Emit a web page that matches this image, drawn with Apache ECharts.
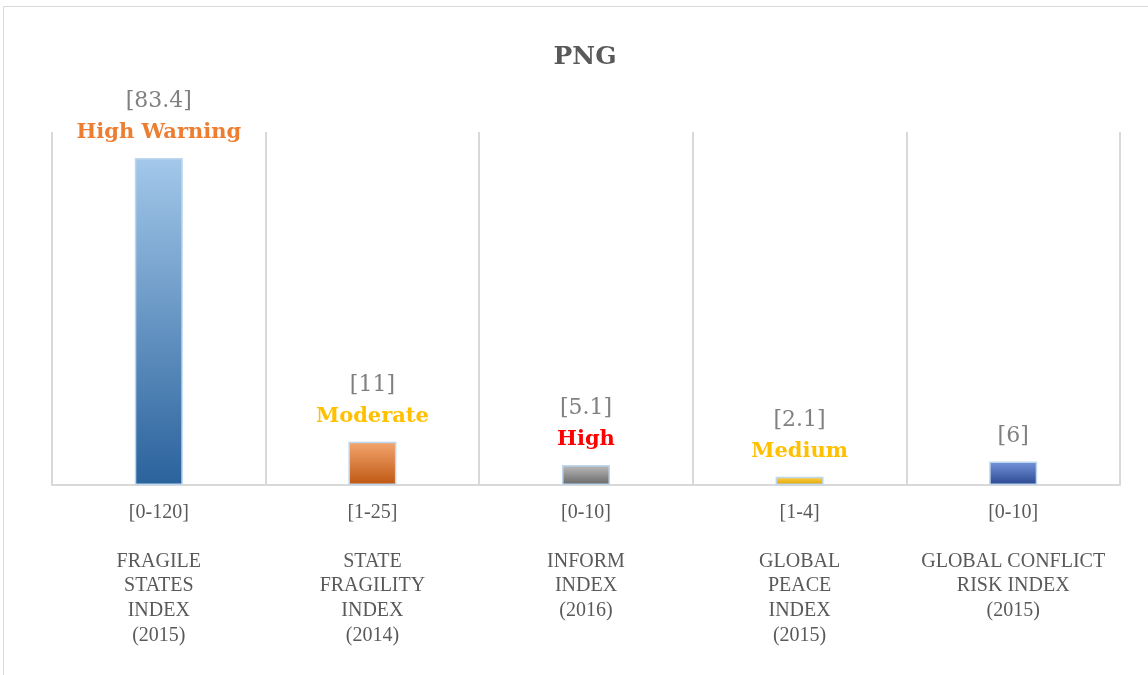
<!DOCTYPE html>
<html>
<head>
<meta charset="utf-8">
<style>
  html, body { margin: 0; padding: 0; background: #fff; }
  #chart { width: 1148px; height: 675px; }
</style>
<script src="https://cdn.jsdelivr.net/npm/echarts@6/dist/echarts.min.js"></script>
</head>
<body>
<div id="chart"></div>
<script>
// data
var indexNames = [
  "FRAGILE\nSTATES\nINDEX\n(2015)",
  "STATE\nFRAGILITY\nINDEX\n(2014)",
  "INFORM\nINDEX\n(2016)",
  "GLOBAL\nPEACE\nINDEX\n(2015)",
  "GLOBAL CONFLICT\nRISK INDEX\n(2015)"
];
var scaleRanges = ["[0-120]", "[1-25]", "[0-10]", "[1-4]", "[0-10]"];
var scores = [83.4, 11, 5.1, 2.1, 6];
var ratings = ["High Warning", "Moderate", "High", "Medium", ""];

// styling
var ratingColors = ["#ED7D31", "#FFC000", "#FF0000", "#FFC000", "#595959"];
var barGradients = [
  ["#a3c8ea", "#2a629c"],
  ["#f4a66f", "#bf5712"],
  ["#bcbcbc", "#676767"],
  ["#ffd450", "#dfa200"],
  ["#7494dc", "#2b4890"]
];

var chart = echarts.init(document.getElementById("chart"));

var rich = {
  v: { fontFamily: "DejaVu Serif", fontSize: 22, color: "#808080", lineHeight: 31 }
};
ratingColors.forEach(function (c, i) {
  rich["s" + i] = { fontFamily: "DejaVu Serif", fontWeight: "bold", fontSize: 21, color: c, lineHeight: 31 };
});

var barData = scores.map(function (v, i) {
  return {
    value: v,
    itemStyle: {
      color: new echarts.graphic.LinearGradient(0, 0, 0, 1, [
        { offset: 0, color: barGradients[i][0] },
        { offset: 1, color: barGradients[i][1] }
      ])
    }
  };
});

var option = {
  backgroundColor: "#ffffff",
  animation: false,
  title: {
    text: "PNG",
    left: 580,
    textAlign: "center",
    top: 40,
    textStyle: {
      fontFamily: "DejaVu Serif",
      fontWeight: "bold",
      fontSize: 25,
      color: "#595959"
    }
  },
  graphic: [
    {
      type: "rect",
      shape: { x: 3.5, y: 6.5, width: 1170, height: 700 },
      style: { fill: "none", stroke: "#d9d9d9", lineWidth: 1 },
      silent: true
    }
  ],
  grid: { left: 52, right: 28, top: 132, bottom: 190 },
  xAxis: {
    type: "category",
    data: indexNames,
    axisLine: { lineStyle: { color: "#d9d9d9", width: 2 } },
    axisTick: { show: false },
    splitLine: { show: true, interval: 0, lineStyle: { color: "#d9d9d9", width: 2 } },
    axisLabel: {
      interval: 0,
      margin: 15,
      fontFamily: "Liberation Serif",
      fontSize: 20,
      lineHeight: 24.6,
      color: "#595959",
      formatter: function (name, i) {
        return scaleRanges[i] + "\n\n" + name;
      }
    }
  },
  yAxis: {
    type: "value",
    min: 0,
    max: 90,
    show: false,
    splitLine: { show: false }
  },
  series: [
    {
      type: "bar",
      barWidth: 48,
      data: barData,
      itemStyle: { borderColor: "#bdd7ee", borderWidth: 1.5 },
      label: {
        show: true,
        position: "top",
        distance: 10,
        rich: rich,
        formatter: function (p) {
          var s = "{v|[" + p.value + "]}";
          if (ratings[p.dataIndex]) s += "\n{s" + p.dataIndex + "|" + ratings[p.dataIndex] + "}";
          return s;
        }
      }
    }
  ]
};

chart.setOption(option);
</script>
</body>
</html>
